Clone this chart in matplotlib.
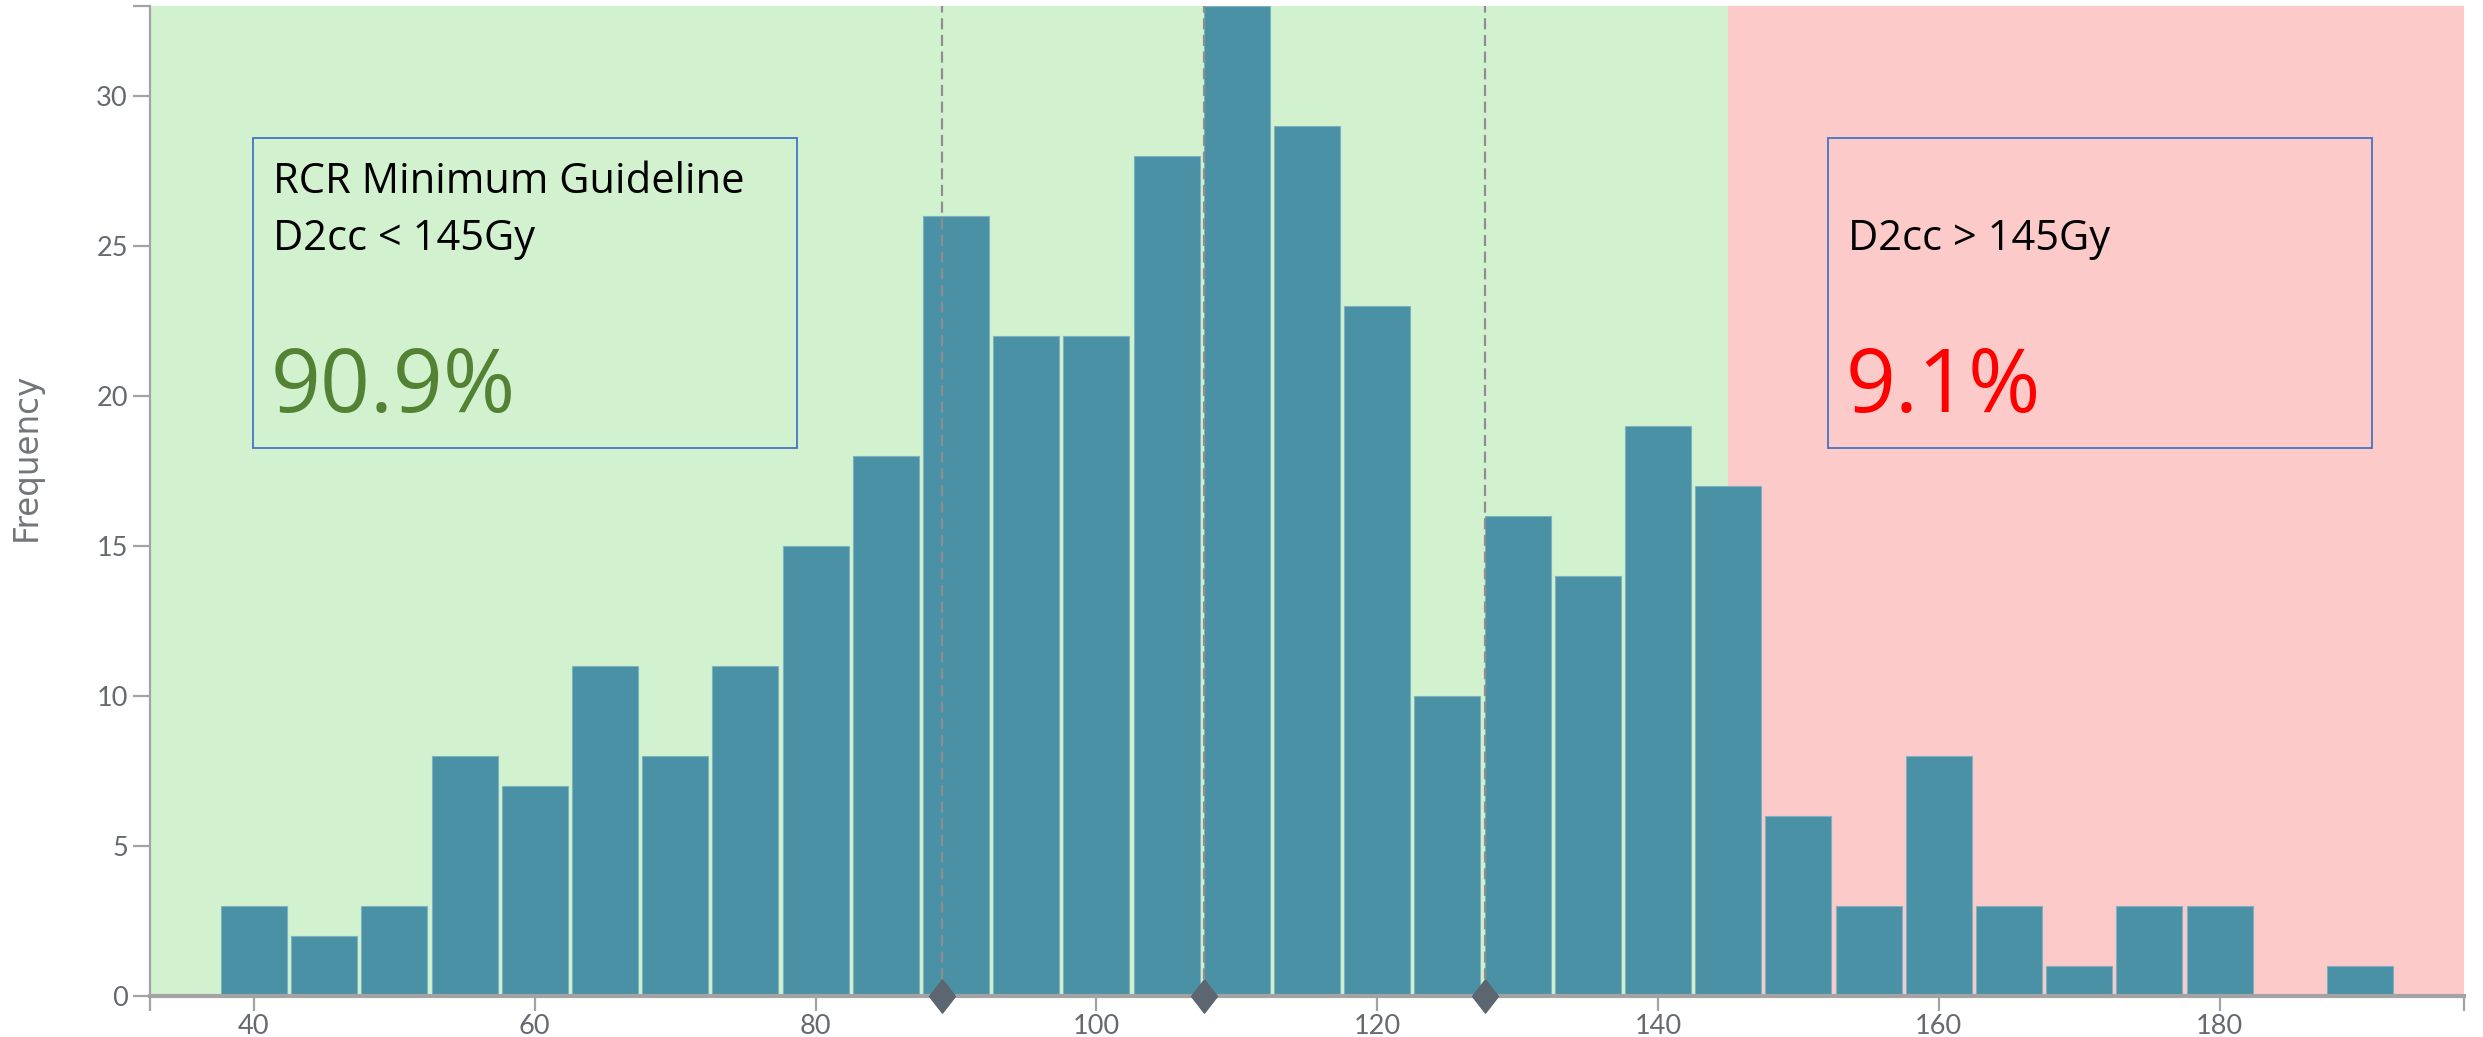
#!/usr/bin/env python3
"""D2cc dose histogram with RCR guideline bands."""
import matplotlib
matplotlib.use("Agg")
import matplotlib.pyplot as plt
from matplotlib.patches import Rectangle

# histogram bins (centre of each 5 Gy bin) and counts
bin_centers = [40, 45, 50, 55, 60, 65, 70, 75, 80, 85, 90, 95, 100, 105, 110,
               115, 120, 125, 130, 135, 140, 145, 150, 155, 160, 165, 170, 175,
               180, 185, 190]
counts = [3, 2, 3, 8, 7, 11, 8, 11, 15, 18, 26, 22, 22, 28, 33,
          29, 23, 10, 16, 14, 19, 17, 6, 3, 8, 3, 1, 3,
          3, 0, 1]
quartiles = [89.0, 107.7, 127.7]
threshold = 145
x_range = (32.6, 197.4)
y_top = 33
x_ticks = [40, 60, 80, 100, 120, 140, 160, 180]
y_ticks = [0, 5, 10, 15, 20, 25, 30]

pass_label = ["RCR Minimum Guideline", "D2cc < 145Gy"]
pass_pct = "90.9%"
fail_label = "D2cc > 145Gy"
fail_pct = "9.1%"

W, H = 2483, 1037
BAR = "#4A91A5"
GREEN = "#D2F2CF"
RED = "#FDCACA"
BOX = "#4472C4"
TICK = "#A3A3A3"
LABEL = "#666A70"


def fx(x):
    return x / W


def fy(y):
    return 1 - y / H


fig = plt.figure(figsize=(W / 100, H / 100), dpi=100)
ax = fig.add_axes([fx(150), fy(996), fx(2464 - 150), (996 - 6) / H])

ax.axvspan(x_range[0], threshold, color=GREEN, lw=0, zorder=0)
ax.axvspan(threshold, x_range[1], color=RED, lw=0, zorder=0)
ax.bar(bin_centers, counts, width=4.7, color=BAR, edgecolor="#7DB3C0",
       linewidth=0.8, zorder=2)

for q in quartiles:
    ax.axvline(q, color="#8E8E8E", lw=1.6, ls=(0, (5, 2.5)), zorder=3)
diamond = [(0, 1), (0.78, 0), (0, -1), (-0.78, 0), (0, 1)]
ax.plot(quartiles, [0] * len(quartiles), ls="none", marker=diamond, ms=24,
        color="#5B6670", clip_on=False, zorder=6)

ax.set_xlim(*x_range)
ax.set_ylim(0, y_top)
ax.set_xticks(x_ticks)
ax.set_yticks(y_ticks)
ax.set_xticks(list(x_range), minor=True)
ax.set_yticks([y_top], minor=True)

for side in ("top", "right"):
    ax.spines[side].set_visible(False)
ax.spines["left"].set_color(TICK)
ax.spines["left"].set_linewidth(1.6)
ax.spines["bottom"].set_color(TICK)
ax.spines["bottom"].set_linewidth(3)
ax.spines["bottom"].set_zorder(5)

ax.tick_params(axis="x", which="both", length=11, width=1.6, color=TICK,
               labelsize=19.5, labelcolor=LABEL, pad=2)
ax.tick_params(axis="y", which="both", length=12, width=1.6, color=TICK,
               labelsize=19.5, labelcolor=LABEL, pad=4)
for lab in ax.get_xticklabels() + ax.get_yticklabels():
    lab.set_family("Lato")

fig.text(fx(26), fy(457), "Frequency", rotation=90, ha="center", va="center",
         size=23.5, color="#72767B", family="DejaVu Sans")

# guideline boxes
for left in (253, 1828):
    fig.add_artist(Rectangle((fx(left), fy(448)), fx(544), (448 - 138) / H,
                             transform=fig.transFigure, fill=False,
                             ec=BOX, lw=1.3, zorder=4))

text_kw = dict(ha="left", va="baseline", family="Open Sans", zorder=5)
fig.text(fx(273), fy(193), pass_label[0], size=30, color="black", **text_kw)
fig.text(fx(273), fy(250), pass_label[1], size=30, color="black", **text_kw)
fig.text(fx(271), fy(412), pass_pct, size=63, color="#548235", **text_kw)
fig.text(fx(1848), fy(250), fail_label, size=30, color="black", **text_kw)
fig.text(fx(1846), fy(412), fail_pct, size=63, color="#FF0000", **text_kw)

fig.savefig("out.png", dpi=100)
